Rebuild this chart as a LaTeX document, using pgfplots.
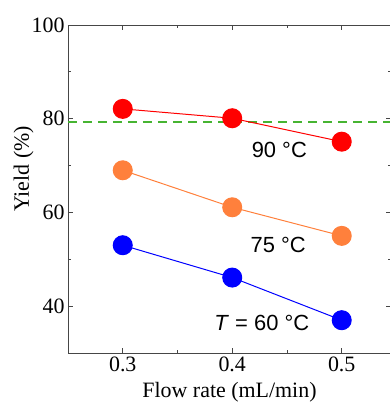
\documentclass[border=0pt]{standalone}
\usepackage{fontspec}
\setmainfont{Liberation Serif}
\newfontfamily\sansf{Liberation Sans}
\usepackage{pgfplots}
\pgfplotsset{compat=1.18}
\definecolor{cred}{RGB}{255,0,0}
\definecolor{corange}{RGB}{255,128,60}
\definecolor{cblue}{RGB}{0,0,255}
\definecolor{cgreen}{RGB}{70,180,50}
\definecolor{caxis}{RGB}{70,70,70}
\begin{document}
\begin{tikzpicture}
\begin{axis}[
  scale only axis,
  width=323bp, height=328bp,
  xmin=0.25, xmax=0.545,
  ymin=30, ymax=100,
  xtick={0.3,0.4,0.5},
  xticklabels={0.3,0.4,0.5},
  ytick={40,60,80,100},
  minor xtick={0.35,0.45},
  minor ytick={50,70,90},
  tick align=inside,
  major tick length=5bp,
  minor tick length=3bp,
  axis line style={caxis, line width=0.9pt},
  every tick/.style={caxis, line width=0.8pt},
  tick label style={font=\fontsize{22}{22}\selectfont},
  /pgf/number format/assume math mode=true,
  xlabel={Flow rate (mL/min)},
  ylabel={Yield (\%)},
  every axis y label/.style={at={(axis description cs:0,0.561)}, rotate=90, anchor=south, yshift=31bp, font=\fontsize{22}{22}\selectfont},
  every axis x label/.style={at={(axis description cs:0.5,0)}, anchor=north, yshift=-26bp, font=\fontsize{22}{22}\selectfont},
  clip=false,
]
\addplot[cgreen, line width=1.8pt, dash pattern=on 9bp off 6bp, forget plot] coordinates {(0.25,79.3) (0.545,79.3)};
\addplot[cred, line width=1pt, mark=*, mark size=9.5bp, mark options={solid}] coordinates {(0.3,82.1) (0.4,80.1) (0.5,75.1)};
\addplot[corange, line width=1pt, mark=*, mark size=9.5bp] coordinates {(0.3,69.0) (0.4,61.1) (0.5,55.0)};
\addplot[cblue, line width=1pt, mark=*, mark size=9.5bp] coordinates {(0.3,53.0) (0.4,46.1) (0.5,37.0)};
\node[font=\sansf\fontsize{22}{22}\selectfont, inner sep=1pt] at (axis cs:0.443,73.3) {90 °C};
\node[font=\sansf\fontsize{22}{22}\selectfont, inner sep=1pt] at (axis cs:0.442,53.0) {75 °C};
\node[font=\sansf\fontsize{22}{22}\selectfont, inner sep=1pt] at (axis cs:0.427,36.4) {\textit{T} = 60 °C};
\end{axis}
\pgfresetboundingbox
\useasboundingbox ([shift={(-68bp,-50bp)}]current axis.south west) rectangle ([shift={(322bp,25bp)}]current axis.north west);
\end{tikzpicture}
\end{document}
